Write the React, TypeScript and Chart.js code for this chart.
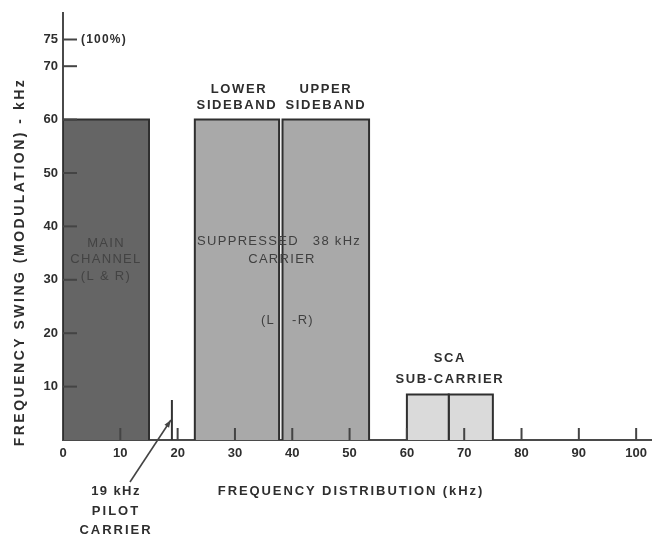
import React, { useEffect, useRef } from "react";
import { Chart, registerables } from "chart.js";

Chart.register(...registerables);

// ---- data ----
const bandNames = ["MAIN CHANNEL", "LOWER SIDEBAND", "UPPER SIDEBAND", "SCA LOWER", "SCA UPPER"];
const bandStart = [0, 23, 38.3, 60, 67.3];
const bandEnd = [15, 37.7, 53.4, 67.3, 75];
const bandHeight = [60, 60, 60, 8.5, 8.5];
const pilotFreq = 19;
const pilotHeight = 7.5;
const xTickValues = [0, 10, 20, 30, 40, 50, 60, 70, 80, 90, 100];
const yTickValues = [10, 20, 30, 40, 50, 60, 70, 75];
const xMin = 0;
const xMax = 102.6;
const yMin = 0;
const yMax = 80;

const bandColors = ["#656565", "#a9a9a9", "#a9a9a9", "#dadada", "#dadada"];
const INK = "#2e2e2e";
const FONT = "'Liberation Sans', Arial, sans-serif";

function drawText(ctx: CanvasRenderingContext2D, text: string, x: number, y: number, opts: any = {}) {
  ctx.save();
  ctx.font = opts.font || `bold 13px ${FONT}`;
  (ctx as any).letterSpacing = opts.spacing || "1.6px";
  ctx.fillStyle = opts.color || INK;
  ctx.textAlign = opts.align || "center";
  ctx.textBaseline = "middle";
  ctx.fillText(text, x, y);
  ctx.restore();
}

const annotationPlugin = {
  id: "annotations",
  afterDatasetsDraw(chart: any) {
    const ctx: CanvasRenderingContext2D = chart.ctx;
    const xs = chart.scales.x;
    const ys = chart.scales.y;
    const ax = xs.getPixelForValue(0);
    const ay = ys.getPixelForValue(0);

    // inward tick marks
    ctx.save();
    ctx.strokeStyle = "#444";
    ctx.lineWidth = 2;
    for (const v of yTickValues) {
      const py = ys.getPixelForValue(v);
      ctx.beginPath();
      ctx.moveTo(ax, py);
      ctx.lineTo(ax + 14, py);
      ctx.stroke();
    }
    for (const v of xTickValues) {
      if (v === 0) continue;
      const px = xs.getPixelForValue(v);
      ctx.beginPath();
      ctx.moveTo(px, ay);
      ctx.lineTo(px, ay - 12);
      ctx.stroke();
    }
    ctx.restore();

    // (100%)
    drawText(ctx, "(100%)", ax + 18, ys.getPixelForValue(75), { align: "left", font: `bold 12px ${FONT}`, spacing: "1.2px" });

    // band labels
    const cx = (a: number, b: number) => (xs.getPixelForValue(a) + xs.getPixelForValue(b)) / 2;
    const lowC = cx(bandStart[1], bandEnd[1]);
    const upC = cx(bandStart[2], bandEnd[2]);
    const topY = ys.getPixelForValue(bandHeight[1]);
    drawText(ctx, "LOWER", lowC + 2, topY - 30);
    drawText(ctx, "SIDEBAND", lowC, topY - 14);
    drawText(ctx, "UPPER", upC, topY - 30);
    drawText(ctx, "SIDEBAND", upC, topY - 14);

    const mainC = cx(bandStart[0], bandEnd[0]);
    const mainCol = "#434343";
    const mf = `13px ${FONT}`;
    drawText(ctx, "MAIN", mainC, 243, { color: mainCol, font: mf, spacing: "1.3px" });
    drawText(ctx, "CHANNEL", mainC, 259, { color: mainCol, font: mf, spacing: "1.3px" });
    drawText(ctx, "(L & R)", mainC, 276, { color: mainCol, font: mf, spacing: "1.3px" });

    const sf = `13px ${FONT}`;
    drawText(ctx, "SUPPRESSED", 248, 241, { color: "#404040", font: sf, spacing: "1.3px" });
    drawText(ctx, "38 kHz", 337, 241, { color: "#404040", font: sf, spacing: "1.3px" });
    drawText(ctx, "CARRIER", 282, 259, { color: "#404040", font: sf, spacing: "1.3px" });
    drawText(ctx, "(L", 268, 320, { color: "#404040", font: sf, spacing: "1.3px" });
    drawText(ctx, "-R)", 303, 320, { color: "#404040", font: sf, spacing: "1.3px" });

    const scaC = cx(bandStart[3], bandEnd[4]);
    const scaTop = ys.getPixelForValue(bandHeight[3]);
    drawText(ctx, "SCA", scaC, scaTop - 36);
    drawText(ctx, "SUB-CARRIER", scaC, scaTop - 15);

    // pilot label + arrow
    drawText(ctx, "19 kHz", 116, 491, { spacing: "1.4px" });
    drawText(ctx, "PILOT", 116, 511, { spacing: "2px" });
    drawText(ctx, "CARRIER", 116, 530, { spacing: "2px" });
    const tx = xs.getPixelForValue(pilotFreq) - 1;
    const ty = ys.getPixelForValue(pilotHeight / 2);
    const sx = 130, sy = 482;
    ctx.save();
    ctx.strokeStyle = "#444";
    ctx.fillStyle = "#444";
    ctx.lineWidth = 1.6;
    ctx.beginPath();
    ctx.moveTo(sx, sy);
    ctx.lineTo(tx, ty);
    ctx.stroke();
    const ang = Math.atan2(ty - sy, tx - sx);
    ctx.beginPath();
    ctx.moveTo(tx, ty);
    ctx.lineTo(tx - 8 * Math.cos(ang - 0.35), ty - 8 * Math.sin(ang - 0.35));
    ctx.lineTo(tx - 8 * Math.cos(ang + 0.35), ty - 8 * Math.sin(ang + 0.35));
    ctx.closePath();
    ctx.fill();
    ctx.restore();

    // axis titles
    drawText(ctx, "FREQUENCY DISTRIBUTION (kHz)", 351, 491, { spacing: "1.9px" });
    ctx.save();
    ctx.translate(20, 262);
    ctx.rotate(-Math.PI / 2);
    drawText(ctx, "FREQUENCY SWING (MODULATION) - kHz", 0, 0, { font: `bold 14px ${FONT}`, spacing: "2.5px" });
    ctx.restore();
  },
};

export default function App() {
  const ref = useRef<HTMLCanvasElement | null>(null);
  useEffect(() => {
    if (!ref.current) return;
    const datasets: any[] = bandNames.map((name, i) => ({
      label: name,
      data: [
        { x: bandStart[i], y: 0 },
        { x: bandStart[i], y: bandHeight[i] },
        { x: bandEnd[i], y: bandHeight[i] },
        { x: bandEnd[i], y: 0 },
      ],
      fill: "origin",
      backgroundColor: bandColors[i],
      borderColor: "#2f2f2f",
      borderWidth: 2,
      pointRadius: 0,
      tension: 0,
    }));
    datasets.push({
      label: "19 kHz PILOT CARRIER",
      data: [
        { x: pilotFreq, y: 0 },
        { x: pilotFreq, y: pilotHeight },
      ],
      fill: false,
      borderColor: "#333",
      borderWidth: 2,
      pointRadius: 0,
    });
    const chart = new Chart(ref.current, {
      type: "line",
      data: { datasets },
      options: {
        animation: false,
        responsive: false,
        layout: { padding: { top: 10, right: 0, left: 0, bottom: 0 } },
        plugins: { legend: { display: false }, tooltip: { enabled: false } },
        scales: {
          x: {
            type: "linear",
            min: xMin,
            max: xMax,
            afterBuildTicks: (s: any) => {
              s.ticks = xTickValues.map((v) => ({ value: v }));
            },
            afterFit: (s: any) => {
              s.height = 94;
            },
            grid: { display: false, drawTicks: false },
            border: { display: true, color: "#4a4a4a", width: 2 },
            ticks: {
              padding: 6,
              color: INK,
              maxRotation: 0,
              autoSkip: false,
              font: { family: FONT, size: 13, weight: "bold" },
            },
          },
          y: {
            type: "linear",
            min: yMin,
            max: yMax,
            afterBuildTicks: (s: any) => {
              s.ticks = yTickValues.map((v) => ({ value: v }));
            },
            afterFit: (s: any) => {
              s.width = 63;
            },
            grid: { display: false, drawTicks: false },
            border: { display: true, color: "#4a4a4a", width: 2 },
            ticks: {
              padding: 5,
              color: INK,
              autoSkip: false,
              font: { family: FONT, size: 13, weight: "bold" },
            },
          },
        },
      },
      plugins: [annotationPlugin],
    });
    return () => chart.destroy();
  }, []);
  return (
    <div style={{ position: "fixed", left: 0, top: 0, width: 653, height: 534, background: "#fff" }}>
      <canvas ref={ref} width={653} height={534} style={{ width: 653, height: 534 }} />
    </div>
  );
}
